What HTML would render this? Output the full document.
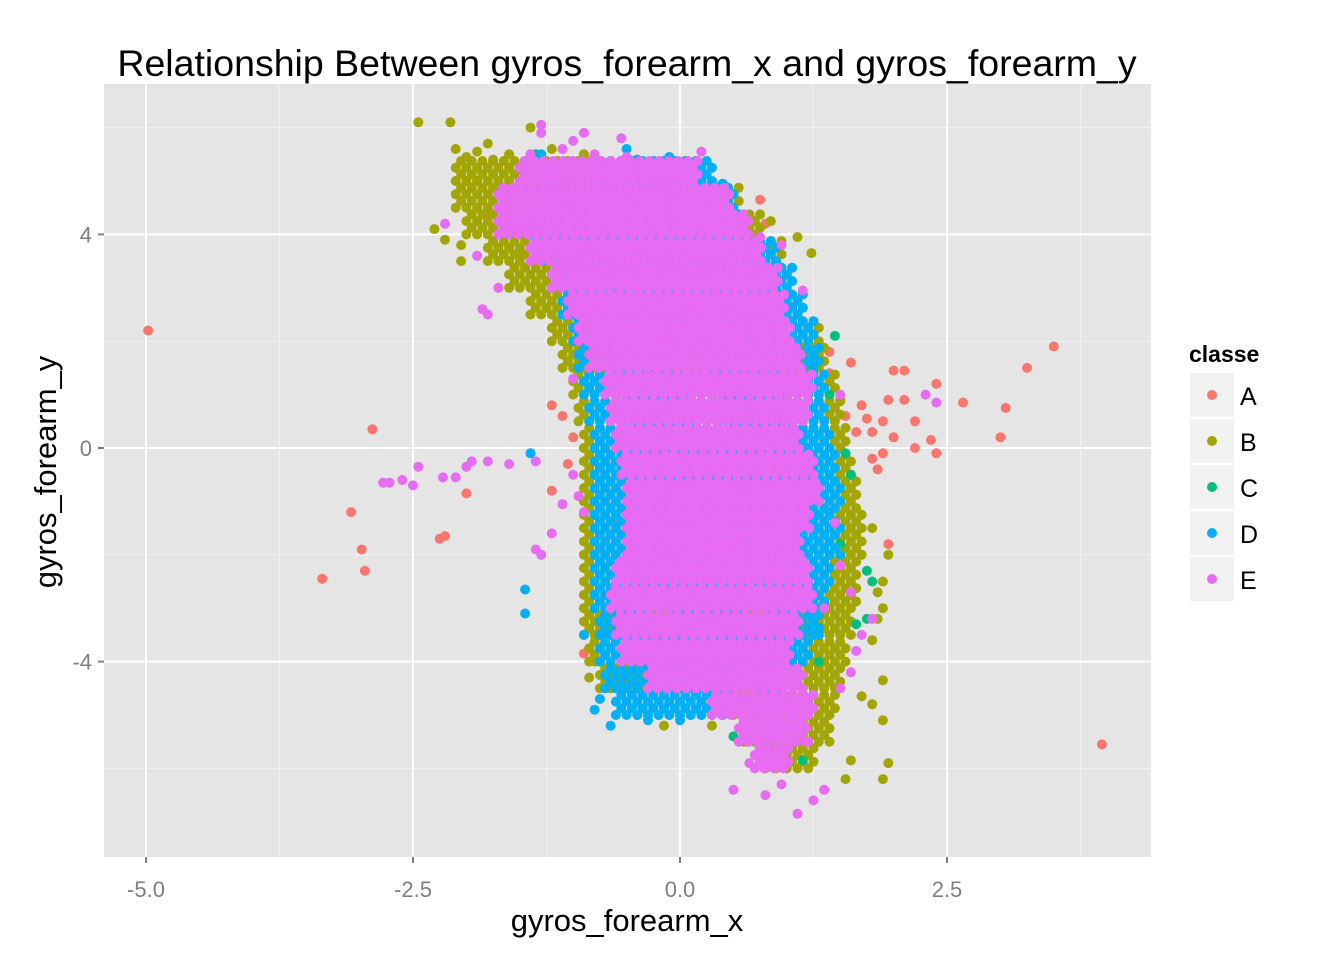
<!DOCTYPE html>
<html><head><meta charset="utf-8"><style>
html,body{margin:0;padding:0;background:#fff}
svg{display:block;font-family:"Liberation Sans",Arial,sans-serif}
</style></head><body>
<svg id="chart" width="1344" height="960" xmlns="http://www.w3.org/2000/svg">
<rect x="0" y="0" width="1344" height="960" fill="#fff"/>
<rect x="104" y="84" width="1047" height="773" fill="#e5e5e5"/>
<g id="grid"></g>
<g id="points"></g>
<g id="axes"></g>
<text x="627" y="76" font-size="37.5" text-anchor="middle" fill="#000">Relationship Between gyros_forearm_x and gyros_forearm_y</text>
<text x="627" y="931" font-size="31" text-anchor="middle" fill="#000">gyros_forearm_x</text>
<text transform="translate(56,472) rotate(-90)" font-size="31" text-anchor="middle" fill="#000">gyros_forearm_y</text>
<g id="legend"></g>
</svg>
<script>
const xTicks=[-5,-2.5,0,2.5];
const xTickLabels=["-5.0","-2.5","0.0","2.5"];
const yTicks=[-4,0,4];
const yTickLabels=["-4","0","4"];
const xMinor=[-3.75,-1.25,1.25,3.75];
const yMinor=[-6,-2,2,6];
const classes=["A","B","C","D","E"];
const colors=["#F8766D","#A3A500","#00BF7D","#00B0F6","#E76BF3"];
// dense cloud bands per class: y, xmin, xmax
const bandY=[5,4.5,4,3.5,3,2.5,2,1.5,1,0.5,0,-0.5,-1,-1.5,-2,-2.5,-3,-3.5,-4,-4.5,-5,-5.5,-6];
const bandB_min=[-2.1,-2.1,-2.0,-1.8,-1.6,-1.4,-1.2,-1.1,-1.0,-0.95,-0.9,-0.9,-0.9,-0.9,-0.9,-0.9,-0.9,-0.9,-0.85,-0.75,-0.4,0.6,0.8];
const bandB_max=[0.2,0.6,0.8,1.0,1.1,1.2,1.3,1.4,1.5,1.55,1.6,1.65,1.7,1.75,1.75,1.7,1.7,1.65,1.6,1.55,1.5,1.45,1.3];
const bandD_min=[-0.8,-1.3,-1.4,-1.3,-1.2,-1.1,-1.0,-0.95,-0.9,-0.85,-0.8,-0.8,-0.8,-0.8,-0.8,-0.8,-0.8,-0.75,-0.75,-0.7,-0.6,5,5];
const bandD_max=[0.3,0.5,0.6,0.9,1.05,1.15,1.25,1.3,1.35,1.4,1.45,1.5,1.55,1.5,1.5,1.45,1.4,1.3,1.2,0.9,0.4,0,0];
const bandE_min=[-1.5,-1.7,-1.7,-1.4,-1.2,-1.05,-0.95,-0.85,-0.7,-0.65,-0.6,-0.55,-0.5,-0.5,-0.5,-0.6,-0.65,-0.6,-0.55,-0.3,0.3,0.55,0.7];
const bandE_max=[0.2,0.5,0.65,0.8,0.95,1.0,1.05,1.15,1.25,1.2,1.15,1.25,1.3,1.25,1.15,1.2,1.25,1.15,1.05,1.15,1.25,1.2,1.05];
const ptsA=[[-4.98,2.2],[-2.88,0.35],[-3.08,-1.2],[-2.98,-1.9],[-2.95,-2.3],[-3.35,-2.45],[-2.25,-1.7],[-2.2,-1.65],[-2.0,-0.85],[3.5,1.9],[3.25,1.5],[3.05,0.75],[3.0,0.2],[2.65,0.85],[2.4,1.2],[2.4,-0.1],[2.35,0.15],[2.1,1.45],[2.0,1.45],[1.9,0.5],[2.0,0.2],[1.9,-0.1],[1.85,-0.4],[1.8,0.3],[1.7,0.8],[1.6,1.6],[1.4,1.8],[1.55,0.6],[1.8,-0.2],[3.95,-5.55],[1.95,-1.8],[0.8,4.2],[0.75,4.65],[-0.9,-3.85],[-1.2,-0.8],[-1.2,0.8],[-0.6,2.5],[1.4,1.4],[2.2,0.5],[2.2,0.0],[1.75,0.55],[1.5,0.9],[1.95,0.9],[2.1,0.9],[1.65,0.3],[-1.0,0.2],[-1.1,0.6],[-1.05,-0.3]];
const ptsB=[[-2.45,6.1],[-2.15,6.1],[-2.1,5.6],[-1.8,5.7],[-1.6,5.5],[-1.4,6.0],[-1.5,5.2],[-2.3,4.1],[-2.2,3.9],[-2.05,3.8],[-2.05,3.5],[-1.9,5.0],[-1.7,4.8],[-2.0,5.45],[-1.9,5.55],[-1.75,5.4],[-1.2,5.6],[-0.9,5.5],[0.85,4.25],[1.1,3.95],[1.23,3.65],[0.85,3.7],[1.0,-5.3],[0.7,-5.0],[1.55,-6.2],[1.6,-5.85],[1.9,-6.2],[1.95,-5.9],[1.9,-5.1],[1.8,-4.8],[1.7,-4.65],[1.9,-4.35],[1.95,-2.0],[1.9,-2.5],[1.9,-3.0],[1.85,-3.2],[-0.8,-4.0],[-0.85,-4.3],[-0.15,-5.2],[0.1,-5.0],[0.3,-5.2],[-0.6,-1.4],[1.8,-1.5],[1.8,-3.6],[1.85,-2.7],[-1.6,4.2],[-1.4,4.6],[-1.8,4.4],[-1.2,3.8],[-1.5,3.6]];
const ptsC=[[1.45,2.1],[1.75,-2.3],[1.8,-2.5],[1.75,-3.2],[1.65,-3.3],[1.15,-5.85],[0.5,-5.4],[-1.35,5.5],[1.55,-0.1],[1.4,-1.2],[1.5,-1.8],[1.3,-4.0],[-0.7,-3.5],[-0.6,0.8],[1.4,1.0],[1.6,-0.5],[-0.4,-1.5],[0.5,-2.5],[0.9,1.5]];
const ptsD=[[-1.45,-2.65],[-1.45,-3.1],[-1.4,-0.1],[-0.9,-3.5],[-0.75,-4.7],[-0.8,-4.9],[-0.65,-5.2],[-0.3,-5.1],[0.0,-5.1],[-0.5,5.6],[-0.2,5.1],[0.0,5.15],[0.4,4.95],[0.2,4.95],[-1.3,5.5],[-0.75,4.55],[1.5,-1.5],[1.5,-2.0],[1.3,-3.5],[-0.4,5.4],[-0.1,5.45],[-0.3,5.3]];
const ptsE=[[-2.5,-0.7],[-2.6,-0.6],[-2.72,-0.65],[-2.78,-0.65],[-2.45,-0.35],[-2.22,-0.55],[-2.1,-0.55],[-2.0,-0.35],[-1.95,-0.25],[-1.8,-0.25],[-1.6,-0.3],[-1.35,-1.9],[-1.3,-2.0],[-1.1,-1.05],[-0.95,-0.9],[-1.35,-0.25],[-0.9,-1.2],[2.4,0.85],[2.3,1.0],[-1.2,5.1],[-1.05,5.35],[-0.5,5.45],[0.2,5.55],[-1.3,5.9],[-1.3,6.05],[-0.9,5.9],[-0.55,5.8],[-1.1,5.6],[-0.8,5.5],[-1.4,5.5],[-1.0,5.75],[0.75,3.95],[0.95,3.8],[1.15,2.95],[0.5,-6.4],[0.8,-6.5],[1.1,-6.85],[1.35,-6.4],[1.25,-6.6],[0.95,-6.3],[0.65,-5.9],[1.05,-5.3],[1.2,-5.5],[1.5,-4.5],[1.6,-4.2],[1.65,-3.8],[1.7,-3.5],[1.8,-3.2],[1.6,-2.7],[-1.7,3.0],[-1.85,2.6],[-1.8,2.5],[-2.2,4.2],[-1.9,3.6],[-0.7,5.2],[-1.2,-1.6],[1.5,1.0],[1.45,-1.4],[1.5,-2.2],[1.35,-3.0],[-1.0,1.3],[-1.0,-0.5]];

const NS="http://www.w3.org/2000/svg";
const X0=680, XS=106.8, Y0=448, YS=53.4;
function sx(v){return X0+v*XS;}
function sy(v){return Y0-v*YS;}
function mk(tag,attrs,parent){const e=document.createElementNS(NS,tag);for(const k in attrs)e.setAttribute(k,attrs[k]);parent.appendChild(e);return e;}
const grid=document.getElementById('grid');
xMinor.forEach(v=>{const l=mk('line',{x1:sx(v),x2:sx(v),y1:84,y2:857,stroke:'#f2f2f2','stroke-width':1},grid);

});
yMinor.forEach(v=>{const l=mk('line',{x1:104,x2:1151,y1:sy(v),y2:sy(v),stroke:'#f2f2f2','stroke-width':1},grid);

});
xTicks.forEach(v=>{const l=mk('line',{x1:sx(v),x2:sx(v),y1:84,y2:857,stroke:'#fff','stroke-width':2},grid);

});
yTicks.forEach(v=>{const l=mk('line',{x1:104,x2:1151,y1:sy(v),y2:sy(v),stroke:'#fff','stroke-width':2},grid);

});
const axes=document.getElementById('axes');
xTicks.forEach((v,i)=>{mk('line',{x1:sx(v),x2:sx(v),y1:857,y2:863,stroke:'#7f7f7f','stroke-width':2},axes);
const t=mk('text',{x:sx(v),y:897,'font-size':22,'text-anchor':'middle',fill:'#7f7f7f'},axes);t.textContent=xTickLabels[i];

});
yTicks.forEach((v,i)=>{mk('line',{x1:98,x2:104,y1:sy(v),y2:sy(v),stroke:'#7f7f7f','stroke-width':2},axes);
const t=mk('text',{x:92,y:sy(v)+8,'font-size':22,'text-anchor':'end',fill:'#7f7f7f'},axes);t.textContent=yTickLabels[i];

});

const pl=document.getElementById('points');
function dot(x,y,c,name){const d=mk('circle',{cx:sx(x).toFixed(1),cy:sy(y).toFixed(1),r:5,fill:c},pl);

}
function band(mins,maxs,c,name,step){
 const sub=[0,0.125,0.25,0.375];
 bandY.forEach((y,i)=>{sub.forEach((o,k)=>{for(let x=mins[i]+(k%2?step/2:0);x<=maxs[i];x+=step)dot(x,y+o,c,name);});});
}
ptsA.forEach(p=>dot(p[0],p[1],colors[0],'point-class-a'));
band(bandB_min,bandB_max,colors[1],'point-class-b',0.1);
ptsB.forEach(p=>dot(p[0],p[1],colors[1],'point-class-b'));
ptsC.forEach(p=>dot(p[0],p[1],colors[2],'point-class-c'));
band(bandD_min,bandD_max,colors[3],'point-class-d',0.1);
ptsD.forEach(p=>dot(p[0],p[1],colors[3],'point-class-d'));
band(bandE_min,bandE_max,colors[4],'point-class-e',0.09);
ptsE.forEach(p=>dot(p[0],p[1],colors[4],'point-class-e'));

const lg=document.getElementById('legend');
const lt=mk('text',{x:1189,y:362,'font-size':23,'font-weight':'bold',fill:'#000'},lg);lt.textContent='classe';


classes.forEach((c,i)=>{const y=373+i*46;
const g=mk('g',{},lg);


mk('rect',{x:1190,y:y,width:44,height:44,fill:'#f2f2f2'},g);
mk('circle',{cx:1212,cy:y+22,r:5,fill:colors[i]},g);
const t=mk('text',{x:1240,y:y+32,'font-size':25,fill:'#000'},g);t.textContent=c;});
</script>
</body></html>
